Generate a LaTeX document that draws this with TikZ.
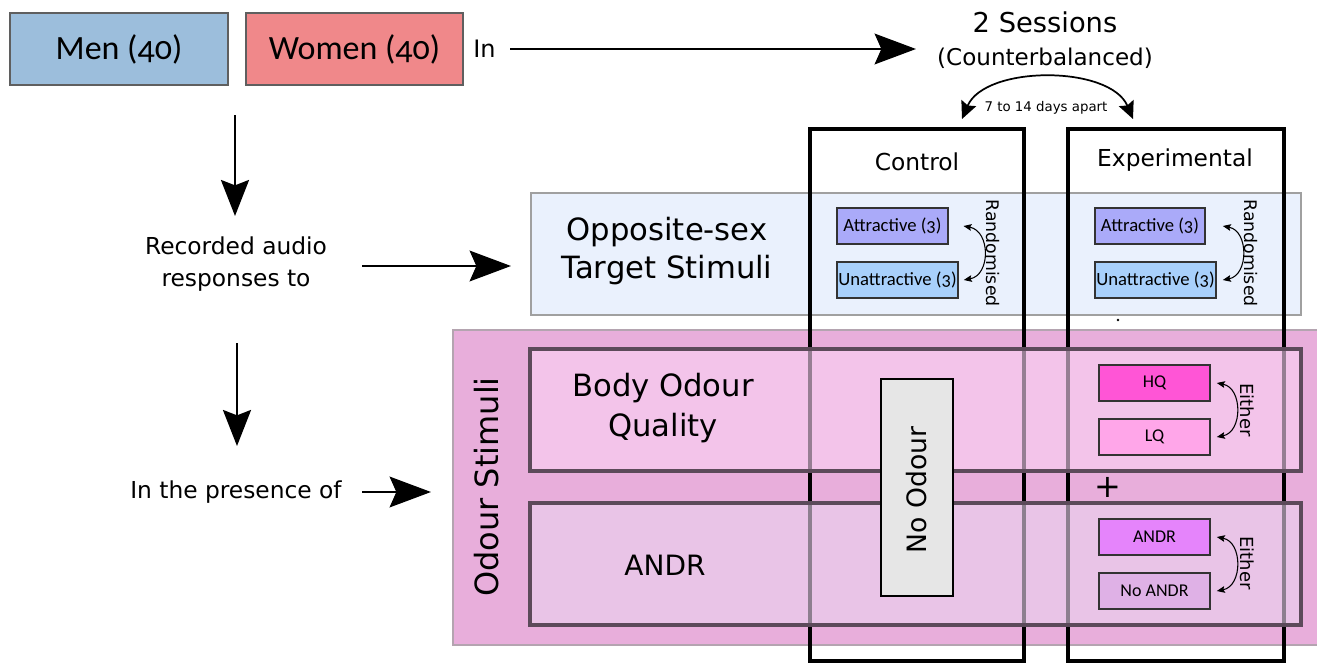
\documentclass[tikz,border=0pt]{standalone}
\usepackage{fontspec}
\setmainfont{DejaVu Sans}
\newfontfamily\calfont[Numbers=OldStyle]{Carlito}
\usetikzlibrary{arrows.meta}

\definecolor{menblue}{HTML}{9CBEDC}
\definecolor{womenred}{HTML}{F0888A}
\definecolor{grpborder}{HTML}{5F5F5F}
\definecolor{bluebg}{HTML}{EAF1FD}
\definecolor{blueborder}{HTML}{A0A0A0}
\definecolor{attrfill}{HTML}{AAAAF9}
\definecolor{unattrfill}{HTML}{A8D0FB}
\definecolor{pinkouter}{HTML}{E8AEDB}
\definecolor{pinkborder}{HTML}{B4A4B0}
\definecolor{bodyfill}{HTML}{FBD3F5}
\definecolor{andrfill}{HTML}{EBD4EF}
\definecolor{innerborder}{HTML}{5C4A5A}
\definecolor{hqfill}{HTML}{FF55D6}
\definecolor{lqfill}{HTML}{FFA6E9}
\definecolor{andrbox}{HTML}{E584FB}
\definecolor{noandrbox}{HTML}{DFB1E6}
\definecolor{greyfill}{HTML}{E6E6E6}

\tikzset{
  sz/.style 2 args={minimum width=#1*0.75pt, minimum height=#2*0.75pt, inner sep=0pt},
  grpbox/.style={draw=grpborder, line width=2pt},
  colbox/.style={draw=black, line width=2.3pt},
  innerbox/.style={draw=innerborder, line width=2.4pt, fill opacity=0.6, text opacity=1},
  smallbox/.style={draw=black!80, line width=1.2pt, font=\calfont\fontsize{14pt}{16pt}\selectfont},
  plain/.style={inner sep=0pt, font=\fontsize{17.5pt}{24pt}\selectfont, align=center},
  bigarrow/.style={line width=1.9pt, -{Stealth[length=31pt, width=23pt, inset=5pt]}},
  downarrow/.style={line width=1.9pt, -{Stealth[length=27pt, width=21pt, inset=4pt]}},
  swaparrow/.style={line width=1.3pt, {Stealth[length=13pt, width=12pt, inset=2pt]}-{Stealth[length=13pt, width=12pt, inset=2pt]}},
  pickarrow/.style={line width=0.8pt, {Stealth[length=6pt, width=5pt, inset=1pt]}-{Stealth[length=6pt, width=5pt, inset=1pt]}},
}

\begin{document}
\begin{tikzpicture}[x=0.75pt, y=-0.75pt]
\useasboundingbox (0,0) rectangle (1317,664);

% participant groups
\node[grpbox, fill=menblue, sz={218}{72}, font=\calfont\fontsize{25.5pt}{30pt}\selectfont] (men) at (119,49) {Men (40)};
\node[grpbox, fill=womenred, sz={217}{72}, font=\calfont\fontsize{25.5pt}{30pt}\selectfont] (women) at (354.5,49) {Women (40)};
\node[plain, anchor=west, font=\fontsize{18pt}{21pt}\selectfont] (inlbl) at (473,49) {In};

% sessions
\node[plain, font=\fontsize{20.5pt}{24pt}\selectfont] (sess) at (1045,22) {2 Sessions};
\node[plain, font=\fontsize{17.3pt}{21pt}\selectfont] (cbal) at (1045,58) {(Counterbalanced)};
\node[plain, font=\fontsize{10pt}{12pt}\selectfont] (days) at (1046,108) {7 to 14 days apart};

\coordinate (inS) at (510,49);
\coordinate (inE) at (916,49);
\draw[bigarrow] (inS) -- (inE);
\coordinate (swL) at (962,119);
\coordinate (swR) at (1133,119);
\draw[swaparrow] (swL) .. controls (985,65) and (1110,65) .. (swR);

% left-hand flow
\node[plain] (rec) at (236,264) {Recorded audio\\responses to};
\node[plain] (pres) at (236,492) {In the presence of};
\coordinate (d1s) at (235,115);
\coordinate (d1e) at (235,216);
\coordinate (d2s) at (237,343);
\coordinate (d2e) at (237,446);
\draw[downarrow] (d1s) -- (d1e);
\draw[downarrow] (d2s) -- (d2e);
\coordinate (r1s) at (362,266);
\coordinate (r1e) at (511,266);
\coordinate (r2s) at (362,492);
\coordinate (r2e) at (431,492);
\draw[bigarrow] (r1s) -- (r1e);
\draw[bigarrow] (r2s) -- (r2e);

% target stimuli band
\node[draw=blueborder, line width=2pt, fill=bluebg, sz={770}{122}] (opp) at (916,254) {};
\node[plain, font=\fontsize{23pt}{29pt}\selectfont] (opptxt) at (667,251) {Opposite-sex\\Target Stimuli};

% odour stimuli band
\node[draw=pinkborder, line width=0.8pt, fill=pinkouter, sz={869}{315}] (odour) at (887.5,487.5) {};
\node[plain, rotate=90, font=\fontsize{24pt}{28pt}\selectfont] (odourtxt) at (487,487) {Odour Stimuli};

% session columns
\node[colbox, sz={214}{532}] (ctrl) at (917,395) {};
\node[colbox, sz={216}{532}] (expt) at (1176,395) {};
\node[plain] (ctrltxt) at (917,162) {Control};
\node[plain] (expttxt) at (1175,160) {Experimental};

% odour sub-bands
\node[innerbox, fill=bodyfill, sz={771}{122}] (body) at (915.5,410) {};
\node[innerbox, fill=andrfill, sz={771}{122}] (andr) at (915.5,564) {};
\node[plain, font=\fontsize{23pt}{30pt}\selectfont] (bodytxt) at (663,408) {Body Odour\\Quality};
\node[plain, font=\fontsize{21pt}{25pt}\selectfont] (andrtxt) at (665,565) {ANDR};

% control: no odour
\node[draw=black, line width=2pt, fill=greyfill, sz={72}{217}] (noodour) at (917,487.5) {};
\node[plain, rotate=90, font=\fontsize{20pt}{24pt}\selectfont] (noodourtxt) at (917,490) {No Odour};

% target stimuli boxes
\node[smallbox, fill=attrfill, sz={111}{36}] (attC) at (892.5,226) {Attractive (3)};
\node[smallbox, fill=unattrfill, sz={121}{36}] (unC) at (897.5,280) {Unattractive (3)};
\node[smallbox, fill=attrfill, sz={110}{36}] (attE) at (1150,226) {Attractive (3)};
\node[smallbox, fill=unattrfill, sz={121}{36}] (unE) at (1155.5,280) {Unattractive (3)};
\draw[pickarrow] ([xshift=11pt]attC.east) .. controls +(27,5) and +(27,-5) .. ([xshift=3.75pt]unC.east);
\draw[pickarrow] ([xshift=12.75pt]attE.east) .. controls +(26,5) and +(26,-5) .. ([xshift=4.5pt]unE.east);
\node[plain, rotate=-90, font=\fontsize{13pt}{15pt}\selectfont] (randC) at (993,253) {Randomised};
\node[plain, rotate=-90, font=\fontsize{13pt}{15pt}\selectfont] (randE) at (1251,253) {Randomised};
\fill (1118,320) circle (1pt);

% experimental odour conditions
\node[smallbox, fill=hqfill, sz={111}{36}, font=\calfont\fontsize{13.5pt}{16pt}\selectfont] (hq) at (1154.5,383) {HQ};
\node[smallbox, fill=lqfill, sz={111}{36}, font=\calfont\fontsize{13.5pt}{16pt}\selectfont] (lq) at (1154.5,437) {LQ};
\node[smallbox, fill=andrbox, sz={111}{36}, font=\calfont\fontsize{13.5pt}{16pt}\selectfont] (yandr) at (1154.5,537) {ANDR};
\node[smallbox, fill=noandrbox, sz={111}{36}, font=\calfont\fontsize{13.5pt}{16pt}\selectfont] (nandr) at (1154.5,591) {No ANDR};
\draw[pickarrow] ([xshift=4.5pt]hq.east) .. controls +(26,5) and +(26,-5) .. ([xshift=4.5pt]lq.east);
\draw[pickarrow] ([xshift=4.5pt]yandr.east) .. controls +(26,5) and +(26,-5) .. ([xshift=4.5pt]nandr.east);
\node[plain, rotate=-90, font=\fontsize{13.5pt}{15pt}\selectfont] (eith1) at (1247,410) {Either};
\node[plain, rotate=-90, font=\fontsize{13.5pt}{15pt}\selectfont] (eith2) at (1247,563) {Either};
\node[plain, font=\fontsize{24pt}{26pt}\selectfont] (plus) at (1108,487) {+};
\end{tikzpicture}
\end{document}
